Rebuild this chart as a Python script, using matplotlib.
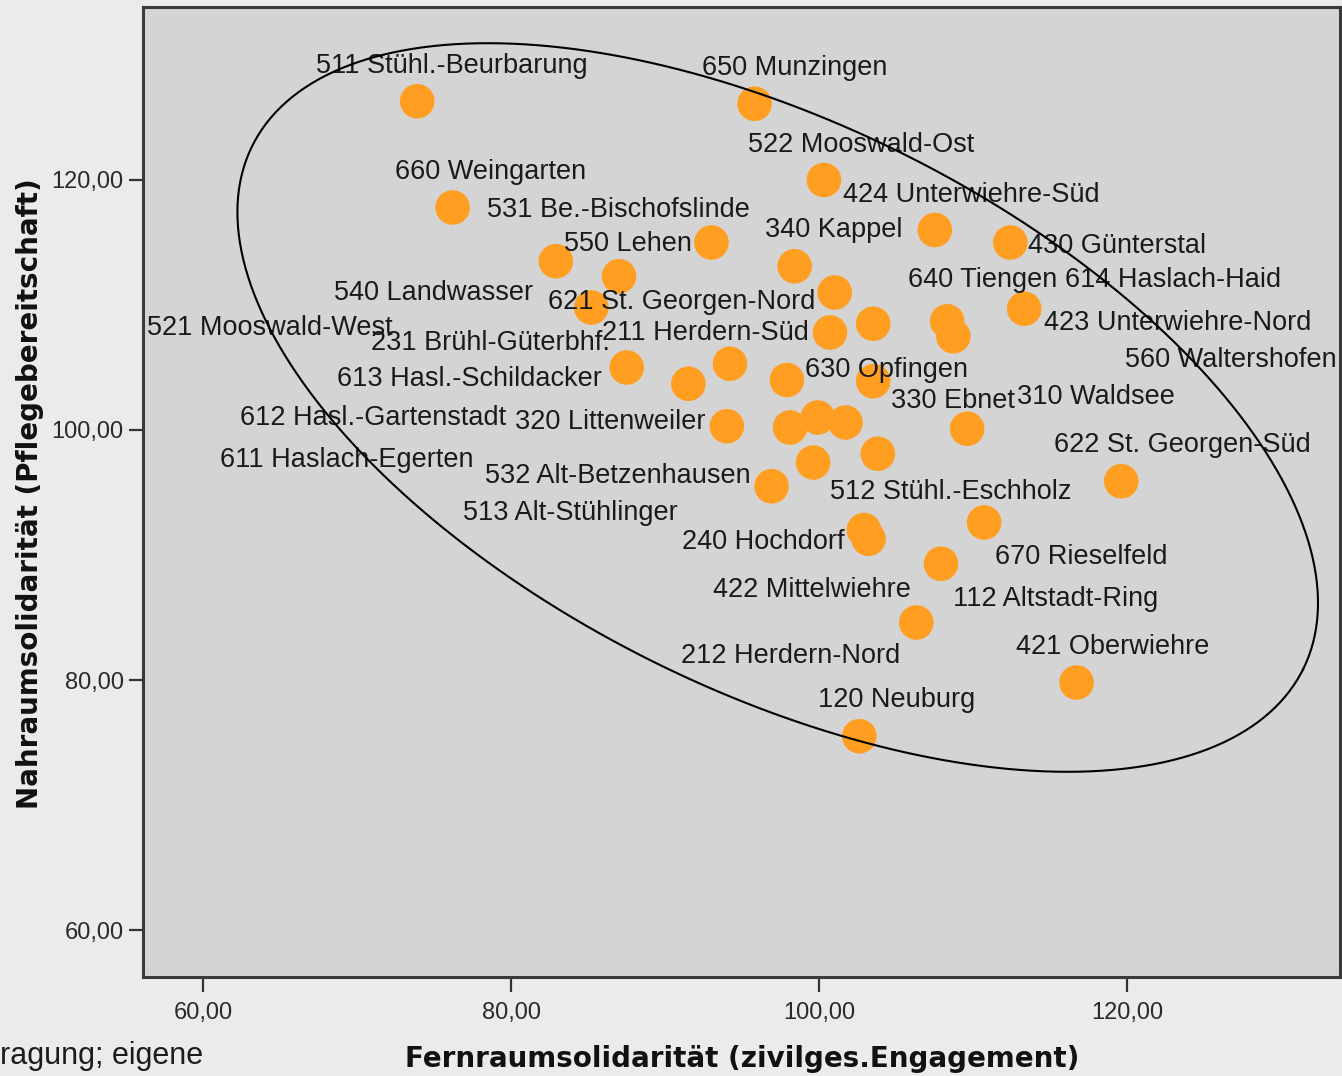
import numpy as np
import matplotlib.pyplot as plt
from matplotlib.ticker import FuncFormatter

# point values (Fernraum x, Nahraum y)
fern = [73.9, 95.8, 100.3, 76.2, 93.0, 82.9, 87.0, 98.4, 101.0, 85.2,
        100.7, 103.5, 107.5, 112.4, 113.3, 108.3, 108.7, 109.6, 119.6, 103.5,
        87.5, 91.5, 94.2, 97.9, 94.0, 98.1, 99.9, 101.7, 99.6, 103.8,
        96.9, 110.7, 102.9, 103.2, 107.9, 106.3, 116.7, 102.6]
nah = [126.3, 126.1, 120.0, 117.8, 115.0, 113.5, 112.3, 113.1, 111.0, 109.8,
       107.8, 108.5, 116.0, 115.0, 109.7, 108.7, 107.5, 100.1, 95.9, 103.9,
       105.0, 103.7, 105.3, 104.0, 100.3, 100.2, 101.0, 100.6, 97.4, 98.1,
       95.5, 92.6, 92.0, 91.3, 89.3, 84.6, 79.8, 75.5]

# district labels as placed in the chart (left edge, baseline)
names = ["511 Stühl.-Beurbarung", "650 Munzingen", "522 Mooswald-Ost", "660 Weingarten",
         "424 Unterwiehre-Süd", "531 Be.-Bischofslinde", "340 Kappel", "550 Lehen",
         "430 Günterstal", "540 Landwasser", "640 Tiengen", "614 Haslach-Haid",
         "621 St. Georgen-Nord", "521 Mooswald-West", "423 Unterwiehre-Nord",
         "231 Brühl-Güterbhf.", "211 Herdern-Süd", "560 Waltershofen", "630 Opfingen",
         "613 Hasl.-Schildacker", "330 Ebnet", "310 Waldsee", "612 Hasl.-Gartenstadt",
         "320 Littenweiler", "611 Haslach-Egerten", "622 St. Georgen-Süd",
         "532 Alt-Betzenhausen", "512 Stühl.-Eschholz", "513 Alt-Stühlinger",
         "240 Hochdorf", "670 Rieselfeld", "422 Mittelwiehre", "112 Altstadt-Ring",
         "212 Herdern-Nord", "421 Oberwiehre", "120 Neuburg"]
name_x = [67.34, 92.40, 95.39, 72.47, 101.56, 78.44, 96.49, 83.44, 113.57, 68.51,
          105.78, 115.97, 82.40, 56.36, 114.61, 70.91, 85.91, 119.87, 99.09, 68.70,
          104.68, 112.86, 62.40, 80.26, 61.10, 115.26, 78.31, 100.71, 76.88, 91.10,
          111.43, 93.12, 108.70, 91.04, 112.79, 99.94]
name_y = [128.56, 128.40, 122.24, 120.08, 118.24, 117.04, 115.44, 114.32, 114.16, 110.40,
          111.44, 111.44, 109.68, 107.60, 108.00, 106.40, 107.20, 105.04, 104.24, 103.52,
          101.76, 102.08, 100.40, 100.08, 97.04, 98.24, 95.76, 94.48, 92.80, 90.48,
          89.28, 86.64, 85.92, 81.36, 82.08, 77.84]

ticks = [60, 80, 100, 120]

# ellipse drawn over the scatter: centre and two half-axis vectors
ell_c = (97.3, 101.8)
ell_u = (34.1, -20.95)
ell_v = (8.2, 20.26)

fig = plt.figure(figsize=(13.42, 10.76), dpi=100, facecolor='#ebebeb')
ax = fig.add_axes([143/1342, 1-977/1076, (1340-143)/1342, (977-7)/1076])
ax.set_facecolor('#d4d4d4')

ax.scatter(fern, nah, s=620, color='#ff9e20', edgecolors='none', zorder=3)

for t, lx, ly in zip(names, name_x, name_y):
    ax.text(lx, ly, t, fontsize=19.5, family='Liberation Sans', color='#1a1a1a',
            ha='left', va='baseline', zorder=4)

t = np.linspace(0, 2*np.pi, 500)
ex = ell_c[0] + ell_u[0]*np.cos(t) + ell_v[0]*np.sin(t)
ey = ell_c[1] + ell_u[1]*np.cos(t) + ell_v[1]*np.sin(t)
ax.plot(ex, ey, color='black', lw=1.5, zorder=5)

ax.set_xlim(56.1, 133.8)
ax.set_ylim(56.24, 133.84)
ax.set_xticks(ticks)
ax.set_yticks(ticks)
fmt = FuncFormatter(lambda v, p: f"{v:.2f}".replace('.', ','))
ax.xaxis.set_major_formatter(fmt)
ax.yaxis.set_major_formatter(fmt)
ax.tick_params(axis='y', length=10, width=1.6, pad=4, color='#333333',
               labelsize=17, labelcolor='#2a2a2a')
ax.tick_params(axis='x', length=11, width=1.6, pad=7, color='#333333',
               labelsize=17, labelcolor='#2a2a2a')
for lab in ax.get_xticklabels() + ax.get_yticklabels():
    lab.set_family('Liberation Sans')
for sp in ax.spines.values():
    sp.set_color('#3a3a3a')
    sp.set_linewidth(2.2)

fig.text(742/1342, 1-1067/1076, "Fernraumsolidarität (zivilges.Engagement)",
         fontsize=20, fontweight='bold', family='DejaVu Sans', color='#111111',
         ha='center', va='baseline')
fig.text(30/1342, 1-494/1076, "Nahraumsolidarität (Pflegebereitschaft)",
         fontsize=20, fontweight='bold', family='DejaVu Sans', color='#111111',
         ha='center', va='center', rotation=90)
fig.text(0, 1-1064/1076, "ragung; eigene", fontsize=22,
         family='Liberation Sans', color='#1c1c1c', ha='left', va='baseline')

fig.savefig('out.png', dpi=100, facecolor=fig.get_facecolor())
